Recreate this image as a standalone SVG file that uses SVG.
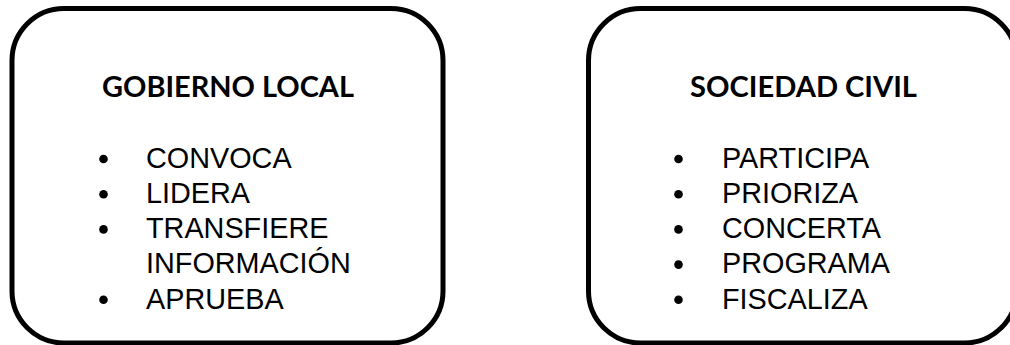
<svg xmlns="http://www.w3.org/2000/svg" width="1010" height="345" viewBox="0 0 1010 345">
<style>
.box{fill:#fff;stroke:#000;stroke-width:5}
.title{font-family:Lato,"Open Sans","Liberation Sans",sans-serif;font-weight:bold;font-size:28px;fill:#000}
.item{font-family:"Liberation Sans",Arial,sans-serif;font-size:28.8px;fill:#000}
.dot{fill:#000}
</style>
<rect width="1010" height="345" fill="#fff"/>
<g id="gobierno-local">
<rect class="box" x="12" y="8.5" width="431" height="334.5" rx="52" ry="52"/>
<text class="title" x="102" y="97" textLength="252" lengthAdjust="spacingAndGlyphs">GOBIERNO LOCAL</text>
<circle class="dot" cx="103.5" cy="159" r="4.3"/>
<text class="item" x="146" y="167.7">CONVOCA</text>
<circle class="dot" cx="103.5" cy="194.2" r="4.3"/>
<text class="item" x="146" y="202.9">LIDERA</text>
<circle class="dot" cx="103.5" cy="229.4" r="4.3"/>
<text class="item" x="146" y="238.1">TRANSFIERE</text>
<text class="item" x="146" y="273.3">INFORMACIÓN</text>
<circle class="dot" cx="103.5" cy="299.8" r="4.3"/>
<text class="item" x="146" y="308.5">APRUEBA</text>
</g>
<g id="sociedad-civil">
<rect class="box" x="588.5" y="8.5" width="428" height="334.5" rx="52" ry="52"/>
<text class="title" x="690" y="97" textLength="227" lengthAdjust="spacingAndGlyphs">SOCIEDAD CIVIL</text>
<circle class="dot" cx="678.5" cy="159" r="4.3"/>
<text class="item" x="722" y="167.7">PARTICIPA</text>
<circle class="dot" cx="678.5" cy="194.2" r="4.3"/>
<text class="item" x="722" y="202.9">PRIORIZA</text>
<circle class="dot" cx="678.5" cy="229.4" r="4.3"/>
<text class="item" x="722" y="238.1">CONCERTA</text>
<circle class="dot" cx="678.5" cy="264.6" r="4.3"/>
<text class="item" x="722" y="273.3">PROGRAMA</text>
<circle class="dot" cx="678.5" cy="299.8" r="4.3"/>
<text class="item" x="722" y="308.5">FISCALIZA</text>
</g>
<g id="connectors"></g>
</svg>
